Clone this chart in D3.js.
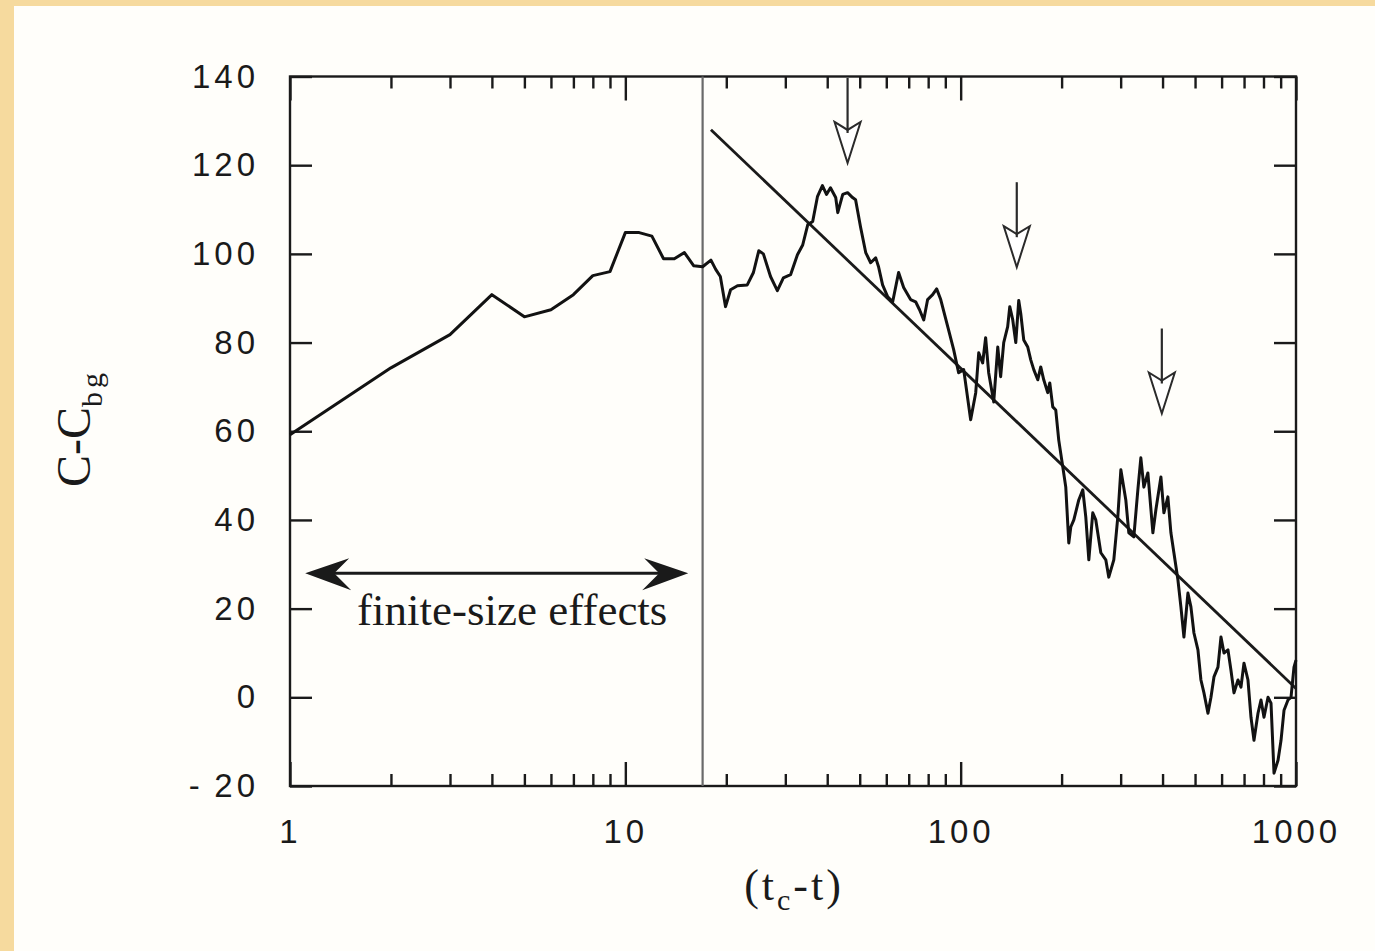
<!DOCTYPE html>
<html>
<head>
<meta charset="utf-8">
<script src="https://cdn.jsdelivr.net/npm/d3@7"></script>
<style>
  html, body { margin: 0; padding: 0; background: #f6da9e; }
  svg { display: block; }
</style>
</head>
<body>
<svg id="chart" width="1375" height="951"></svg>
<script>
// Time before the critical point (t_c - t), log scale
const timeToCrash = [
  1, 2, 3, 4, 5, 6, 7, 8, 9, 10, 11, 12, 13, 14, 15, 16, 17, 18, 18.6, 19.2,
  19.9, 20.6, 21.6, 23.1, 24.1, 25.0, 25.8, 27.1, 28.4, 29.6, 31.1, 32.6, 33.8, 35.0, 36.2, 37.4,
  38.7, 39.8, 40.9, 42.4, 43.0, 44.5, 46.0, 47.6, 48.6, 50.3, 52.1, 53.9, 55.8, 56.9,
  58.5, 60.6, 62.7, 65.3, 67.6, 70.9, 73.4, 75.4, 77.6, 79.7, 82.5, 84.8, 87.2, 91.5,
  95.3, 98.6, 102.1, 107.1, 110.9, 113.2, 116.3, 118.7, 121.2, 125.5, 129.0, 131.6, 134.4,
  138.1, 140.1, 143.0, 146.0, 149.0, 151.1, 154.2, 158.5, 161.8, 165.2, 169.8, 173.3,
  176.9, 181.8, 184.4, 188.2, 192.1, 196.1, 201.6, 205.8, 210.1, 213.0, 217.5, 225.0,
  231.3, 236.1, 241.1, 247.7, 252.9, 261.8, 270.9, 276.5, 286.2, 294.2, 300.4, 310.8,
  317.3, 328.4, 337.6, 344.6, 351.8, 361.6, 374.3, 382.1, 395.5, 403.7, 414.9, 423.6,
  432.4, 444.5, 453.7, 463.2, 476.1, 486.0, 496.2, 510.0, 520.6, 531.5, 546.3, 557.7,
  569.3, 585.2, 597.4, 609.9, 626.8, 639.8, 653.2, 671.4, 685.4, 699.6, 719.1, 734.1,
  749.4, 770.3, 786.3, 802.7, 825.1, 842.3, 859.9, 883.9, 902.3, 921.1, 946.5, 966.2,
  986.3, 1000
];
// Excess concentration C - C_bg at each time
const concentration = [
  59.2, 74.3, 81.8, 90.8, 85.8, 87.4, 90.8, 95.1, 96.0, 104.8, 104.8, 104.0, 98.9, 98.9, 100.3, 97.3, 97.1, 98.6, 96.5, 94.9,
  88.1, 91.9, 92.8, 93.0, 95.8, 100.7, 100.0, 94.9, 91.7, 94.6, 95.3, 99.8, 102.0, 106.6, 107.3, 112.9,
  115.4, 113.4, 114.9, 112.7, 109.3, 113.4, 113.8, 112.7, 112.2, 106.0, 100.3, 98.0, 99.1, 97.1,
  93.0, 90.3, 89.2, 95.8, 92.4, 89.7, 89.2, 87.4, 85.1, 89.7, 90.8, 92.1, 89.7, 83.6,
  78.4, 73.2, 73.9, 62.6, 68.7, 77.7, 75.4, 81.1, 73.2, 66.6, 79.0, 72.3, 80.0,
  83.6, 88.1, 85.1, 80.0, 89.5, 86.5, 80.6, 79.0, 76.1, 73.9, 71.6, 74.5,
  71.6, 68.7, 70.9, 65.5, 64.8, 58.0, 52.0, 47.4, 34.8, 38.4, 40.0, 44.5,
  46.8, 40.7, 31.0, 41.6, 40.0, 32.6, 31.0, 27.1, 31.0, 40.7, 51.3, 44.5,
  37.1, 36.2, 46.8, 54.0, 47.4, 50.6, 37.1, 42.3, 49.7, 41.6, 45.2, 37.1,
  32.6, 26.5, 20.4, 13.6, 23.5, 20.4, 14.5, 10.7, 3.9, 1.0, -3.6, 0.0,
  4.6, 6.8, 13.6, 10.0, 10.7, 6.1, 1.0, 3.9, 2.3, 7.7, 3.9, -4.5,
  -9.7, -3.6, -0.6, -4.5, 0.0, -1.3, -17.1, -14.2, -9.7, -2.9, -0.6, 0.0,
  6.8, 8.4
];

// Log-periodic power-law fit (straight on a log axis) and its end points
const fitT = [18, 1000];
const fitC = [128, 2];

// Lower limit of the scaling region
const cutoffT = 17;

// Marked peaks: arrow positions and tip levels
const arrowT = [46, 147, 398];
const arrowTipC = [120.5, 97, 64];

// Range affected by finite-size effects
const finiteRangeT = [1.11, 15.4];
const finiteRangeC = 28;
const finiteLabel = "finite-size effects";
const finiteLabelT = 4.6;
const finiteLabelC = 16.3;

// Axis ticks
const yTicks = [-20, 0, 20, 40, 60, 80, 100, 120, 140];
const yTickLabels = ["-\u200920", "0", "20", "40", "60", "80", "100", "120", "140"];
const xTicks = [1, 10, 100, 1000];
const xTickLabels = ["1", "10", "100", "1000"];
const xMinorTicks = [2, 3, 4, 5, 6, 7, 8, 9, 20, 30, 40, 50, 60, 70, 80, 90,
                     200, 300, 400, 500, 600, 700, 800, 900];

const W = 1375, H = 951;
const ink = "#1a1a1a";
const svg = d3.select("#chart");

// paper
svg.append("rect").attr("width", W).attr("height", H).attr("fill", "#f6da9e");
svg.append("rect").attr("x", 14).attr("y", 6).attr("width", W - 14).attr("height", H - 6)
  .attr("fill", "#fffefa");

const x = d3.scaleLog().domain([1, 1000]).range([290, 1296]);
const y = d3.scaleLinear().domain([-20, 140]).range([786, 76.5]);

const tickFont = "'Liberation Sans', Arial, sans-serif";

function styleAxis(g) {
  g.select(".domain").remove();
  g.selectAll(".tick line").attr("stroke", ink).attr("stroke-width", 2.4);
  g.selectAll(".tick text")
    .attr("fill", ink)
    .style("font-family", tickFont)
    .style("font-size", "33px")
    .style("letter-spacing", "4px");
}

// left axis with labels
svg.append("g").attr("transform", `translate(${x.range()[0]},0)`)
  .call(d3.axisLeft(y).tickValues(yTicks)
    .tickFormat(d => yTickLabels[yTicks.indexOf(d)])
    .tickSize(-22).tickPadding(31))
  .call(styleAxis);

// right axis ticks
svg.append("g").attr("transform", `translate(${x.range()[1]},0)`)
  .call(d3.axisRight(y).tickValues(yTicks).tickFormat("").tickSize(-22))
  .call(styleAxis);

// bottom axis with labels
svg.append("g").attr("transform", `translate(0,${y.range()[0]})`)
  .call(d3.axisBottom(x).tickValues(xTicks)
    .tickFormat(d => xTickLabels[xTicks.indexOf(d)])
    .tickSize(-24).tickPadding(34))
  .call(styleAxis);
svg.append("g").attr("transform", `translate(0,${y.range()[0]})`)
  .call(d3.axisBottom(x).tickValues(xMinorTicks).tickFormat("").tickSize(-12))
  .call(styleAxis);

// top axis ticks
svg.append("g").attr("transform", `translate(0,${y.range()[1]})`)
  .call(d3.axisTop(x).tickValues(xTicks).tickFormat("").tickSize(-24))
  .call(styleAxis);
svg.append("g").attr("transform", `translate(0,${y.range()[1]})`)
  .call(d3.axisTop(x).tickValues(xMinorTicks).tickFormat("").tickSize(-12))
  .call(styleAxis);

// frame
svg.append("rect")
  .attr("x", x.range()[0]).attr("y", y.range()[1])
  .attr("width", x.range()[1] - x.range()[0])
  .attr("height", y.range()[0] - y.range()[1])
  .attr("fill", "none").attr("stroke", ink).attr("stroke-width", 2.4);

// cutoff line
svg.append("line")
  .attr("x1", x(cutoffT)).attr("x2", x(cutoffT))
  .attr("y1", y.range()[1]).attr("y2", y.range()[0])
  .attr("stroke", "#6a6a6a").attr("stroke-width", 2.2);

// fit line
svg.append("path")
  .datum(fitT.map((t, i) => ({ t, c: fitC[i] })))
  .attr("d", d3.line().x(d => x(d.t)).y(d => y(d.c)))
  .attr("fill", "none").attr("stroke", ink).attr("stroke-width", 2.8);

// data series
const series = timeToCrash.map((t, i) => ({ t, c: concentration[i] }));
svg.append("path")
  .datum(series)
  .attr("d", d3.line().x(d => x(d.t)).y(d => y(d.c)))
  .attr("fill", "none").attr("stroke", "#121212")
  .attr("stroke-width", 3).attr("stroke-linejoin", "round");

// open arrows marking the peaks
arrowT.forEach((t, i) => {
  const ax = x(t), ty = y(arrowTipC[i]);
  const g = svg.append("g");
  g.append("path")
    .attr("d", `M${ax - 13},${ty - 41} L${ax},${ty - 33} L${ax + 13},${ty - 41} L${ax},${ty} Z`)
    .attr("fill", "#fff").attr("stroke", "#2a2a2a").attr("stroke-width", 2)
    .attr("stroke-linejoin", "miter");
  g.append("line")
    .attr("x1", ax).attr("x2", ax).attr("y1", ty - 85).attr("y2", ty - 30)
    .attr("stroke", "#2a2a2a").attr("stroke-width", 2.2);
});

// double-headed arrow for the finite-size region
{
  const ay = y(finiteRangeC);
  const x0 = x(finiteRangeT[0]), x1 = x(finiteRangeT[1]);
  svg.append("line").attr("x1", x0 + 20).attr("x2", x1 - 20)
    .attr("y1", ay).attr("y2", ay).attr("stroke", ink).attr("stroke-width", 3);
  svg.append("path")
    .attr("d", `M${x0},${ay} L${x0 + 44},${ay - 15} L${x0 + 29},${ay} L${x0 + 46},${ay + 17} Z`)
    .attr("fill", ink);
  svg.append("path")
    .attr("d", `M${x1},${ay} L${x1 - 44},${ay - 15} L${x1 - 29},${ay} L${x1 - 46},${ay + 17} Z`)
    .attr("fill", ink);
  svg.append("text")
    .attr("x", x(finiteLabelT)).attr("y", y(finiteLabelC))
    .attr("text-anchor", "middle")
    .style("font-family", "'Liberation Serif', 'Times New Roman', serif")
    .style("font-size", "45px").attr("fill", ink)
    .text(finiteLabel);
}

// x-axis title: (t_c - t)
{
  const t = svg.append("text")
    .attr("x", 794).attr("y", 900)
    .attr("text-anchor", "middle")
    .style("font-family", "'Liberation Serif', 'Times New Roman', serif")
    .style("font-size", "44px").style("letter-spacing", "3px")
    .attr("fill", ink);
  t.append("tspan").text("(t");
  t.append("tspan").text("c").style("font-size", "30px").attr("dy", 10);
  t.append("tspan").text("-t)").attr("dy", -10);
}

// y-axis title: C - C_bg
{
  const g = svg.append("g").attr("transform", "translate(90,428) rotate(-90)");
  const t = g.append("text")
    .attr("text-anchor", "middle")
    .style("font-family", "'Liberation Serif', 'Times New Roman', serif")
    .style("font-size", "48px")
    .attr("fill", ink);
  t.append("tspan").text("C-C");
  t.append("tspan").text("bg").style("font-size", "30px").style("letter-spacing", "4px").attr("dy", 12);
}
</script>
</body>
</html>
